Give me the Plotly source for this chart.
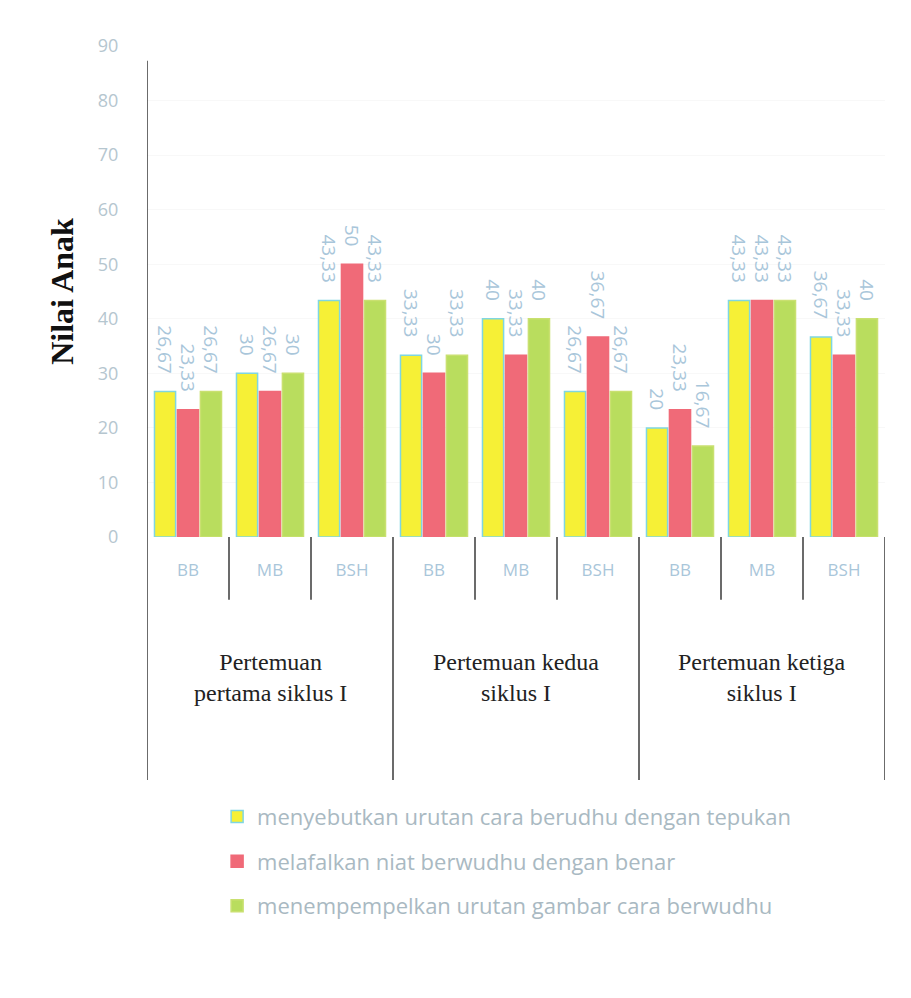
import plotly.graph_objects as go

groups = ["Pertemuan<br>pertama siklus I", "Pertemuan kedua<br>siklus I", "Pertemuan ketiga<br>siklus I"]
subcats = ["BB", "MB", "BSH"]
series_names = [
    "menyebutkan urutan cara berudhu dengan tepukan",
    "melafalkan niat berwudhu dengan benar",
    "menempempelkan urutan gambar cara berwudhu",
]
s1 = [26.67, 30, 43.33, 33.33, 40, 26.67, 20, 43.33, 36.67]
s2 = [23.33, 26.67, 50, 30, 33.33, 36.67, 23.33, 43.33, 33.33]
s3 = [26.67, 30, 43.33, 33.33, 40, 26.67, 16.67, 43.33, 40]
y_ticks = [0, 10, 20, 30, 40, 50, 60, 70, 80, 90]

colors = ["#f6f036", "#f06a78", "#b9dd5e"]
edges = ["#7fd6e2", "#f06a78", "#c9e070"]

ncat = len(groups) * len(subcats)
xpos = list(range(ncat))
ticktext = [subcats[i % len(subcats)] for i in range(ncat)]

def fmt(v):
    return f"{v:g}".replace(".", ",") + "\u00a0\u00a0\u00a0"

fig = go.Figure()
for i, (name, vals) in enumerate(zip(series_names, [s1, s2, s3])):
    fig.add_trace(go.Bar(
        x=xpos, y=vals, name=name,
        marker=dict(color=colors[i], line=dict(color=edges[i], width=1.5)),
        text=[fmt(v) for v in vals],
        textposition="outside", textangle=90, constraintext="none",
        textfont=dict(color="#a9c6da", size=19, family="Open Sans"),
        cliponaxis=False,
        legendgroup=f"g{i}",
    ))

shapes = []
shapes.append(dict(type="line", xref="x", yref="paper", x0=-0.5, x1=-0.5, y0=0.97, y1=-0.495,
                   line=dict(color="#3a3a3a", width=1.5)))
for i in range(ncat):
    xb = i + 0.5
    long = (i + 1) % len(subcats) == 0
    shapes.append(dict(type="line", xref="x", yref="paper", x0=xb, x1=xb, y0=0,
                       y1=-0.495 if long else -0.128,
                       line=dict(color="#3a3a3a", width=1.5)))

annotations = []
for g, label in enumerate(groups):
    annotations.append(dict(x=g * len(subcats) + 1, y=-0.287, xref="x", yref="paper",
                            text=label, showarrow=False, yanchor="middle",
                            font=dict(family="Liberation Serif", size=24, color="#222")))

fig.update_layout(
    width=911, height=998,
    margin=dict(l=147, r=26, t=46, b=461),
    paper_bgcolor="white", plot_bgcolor="white",
    barmode="group", bargap=0.16, bargroupgap=0.08,
    showlegend=True,
    legend=dict(x=0.095, y=-0.527, xanchor="left", yanchor="top",
                font=dict(family="Open Sans", size=22, color="#a9b9c2"),
                tracegroupgap=13, bgcolor="rgba(0,0,0,0)", itemwidth=30),
    xaxis=dict(range=[-0.5, ncat - 0.5], tickvals=xpos, ticktext=ticktext,
               ticks="outside", ticklen=18, tickcolor="rgba(0,0,0,0)",
               tickfont=dict(family="Open Sans", size=17, color="#a9c6da"),
               showgrid=False, zeroline=False, showline=False),
    yaxis=dict(range=[0, 90], tickvals=y_ticks,
               ticks="outside", ticklen=24, tickcolor="rgba(0,0,0,0)",
               tickfont=dict(family="Open Sans", size=18, color="#b5c6cf"),
               showgrid=True, gridcolor="#f8f8f8", zeroline=False, showline=False,
               title=dict(text="<b>Nilai Anak</b>", standoff=14,
                          font=dict(family="Liberation Serif", size=32, color="#111"))),
    shapes=shapes, annotations=annotations,
)

fig.write_html("out.html")
